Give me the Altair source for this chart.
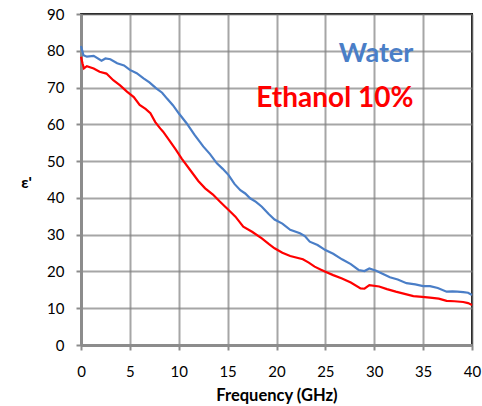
import altair as alt
import pandas as pd

water_f = [0, 0.25, 0.6, 1.3, 2.1, 2.5, 3.0, 3.7, 4.4, 5.0, 5.7, 6.4, 7.0, 7.7, 8.3, 8.8, 9.4, 10.0,
           10.8, 11.6, 12.5, 13.2, 13.9, 14.5, 15.1, 15.7, 16.3, 16.8, 17.3, 17.9, 18.5, 19.2, 19.8,
           20.6, 21.4, 22.4, 22.9, 23.4, 24.2, 25.0, 25.8, 26.7, 27.6, 28.4, 29.0, 29.5, 30.2, 30.9,
           31.6, 32.4, 33.3, 34.2, 35.0, 35.7, 36.5, 37.4, 38.0, 38.5, 39.1, 39.6, 40.0]
water_v = [81.3, 78.8, 78.4, 78.6, 77.3, 77.9, 77.7, 76.6, 76.0, 74.8, 73.9, 72.5, 71.4, 69.8, 68.6, 67.0, 65.2, 63.0,
           60.3, 57.2, 54.0, 51.9, 49.4, 47.9, 46.2, 43.8, 42.1, 41.2, 39.9, 38.9, 37.6, 35.6, 34.1,
           33.0, 31.3, 30.4, 29.6, 28.1, 27.2, 25.8, 24.8, 23.3, 22.0, 20.4, 20.1, 20.8, 20.2, 19.3,
           18.4, 17.8, 16.8, 16.5, 16.0, 16.0, 15.5, 14.5, 14.6, 14.5, 14.4, 14.2, 13.6]

eth_f = [0, 0.15, 0.3, 0.6, 1.3, 1.9, 2.6, 3.3, 4.0, 4.7, 5.4, 6.0, 6.6, 7.1, 7.6, 8.1, 8.4, 9.0, 9.7, 10.3,
         11.3, 12.0, 12.7, 13.5, 14.2, 15.1, 15.8, 16.6, 17.5, 18.5, 19.2, 19.8, 20.6, 21.4, 22.7,
         23.3, 23.9, 24.5, 25.0, 25.8, 26.7, 27.6, 28.6, 29.0, 29.5, 30.5, 31.3, 32.2, 33.1,
         34.0, 34.9, 35.7, 36.6, 37.4, 38.2, 39.1, 39.6, 40.0]
eth_v = [78.4, 76.6, 75.2, 75.8, 75.2, 74.3, 73.8, 72.0, 70.6, 68.9, 67.4, 65.3, 64.2, 63.0, 60.6, 58.9, 58.0, 55.8, 53.1, 50.7,
         47.1, 44.6, 42.6, 40.9, 39.0, 36.7, 34.9, 32.2, 30.8, 29.0, 27.5, 26.3, 25.1, 24.2, 23.3,
         22.4, 21.3, 20.5, 19.9, 19.0, 18.1, 17.0, 15.4, 15.3, 16.3, 15.9, 15.2, 14.5, 13.9,
         13.3, 13.1, 12.9, 12.6, 12.0, 11.9, 11.7, 11.4, 10.9]

series_names = ["Water", "Ethanol 10%"]
series_colors = ["#4A7EC7", "#FF0000"]

df = pd.concat([
    pd.DataFrame({"f": water_f, "v": water_v, "s": series_names[0]}),
    pd.DataFrame({"f": eth_f, "v": eth_v, "s": series_names[1]}),
])

FONT = "Lato"

x_scale = alt.Scale(domain=[0, 40], nice=False)
y_scale = alt.Scale(domain=[0, 90], nice=False)
x_axis = alt.Axis(values=list(range(0, 41, 5)), title="Frequency (GHz)", labelFlush=False,
                  grid=True, tickSize=5, labelPadding=14, titlePadding=8, titleFontSize=16.5)
y_axis = alt.Axis(values=list(range(0, 91, 10)), title="ε'", grid=True, labelFlush=False,
                  tickSize=5, labelPadding=12, titleAngle=0, titleX=-55, titleY=168,
                  titleAlign="center", titleBaseline="middle", titleFontSize=16)

lines = alt.Chart(df).mark_line(strokeWidth=2.2).encode(
    x=alt.X("f:Q", scale=x_scale, axis=x_axis),
    y=alt.Y("v:Q", scale=y_scale, axis=y_axis),
    color=alt.Color("s:N", scale=alt.Scale(domain=series_names, range=series_colors), legend=None),
    order=alt.Order("f:Q"),
)

water_txt = alt.Chart(pd.DataFrame({"t": [series_names[0]]})).mark_text(
    font=FONT, fontSize=27, fontWeight="bold", color=series_colors[0], align="right", baseline="alphabetic"
).encode(x=alt.X(datum=34, scale=x_scale, axis=x_axis),
         y=alt.Y(datum=77, scale=y_scale, axis=y_axis), text="t:N")

eth_txt = alt.Chart(pd.DataFrame({"t": [series_names[1]]})).mark_text(
    font=FONT, fontSize=28, fontWeight="bold", color=series_colors[1], align="right", baseline="alphabetic"
).encode(x=alt.X(datum=34, scale=x_scale, axis=x_axis),
         y=alt.Y(datum=64.7, scale=y_scale, axis=y_axis), text="t:N")

chart = alt.layer(lines, water_txt, eth_txt).properties(
    width=391, height=331,
    autosize=alt.AutoSizeParams(type="none"),
    padding={"left": 81, "top": 14, "right": 10, "bottom": 61},
).configure_view(
    stroke="black", strokeWidth=2
).configure_axis(
    labelFont=FONT, titleFont=FONT, labelFontSize=15, titleFontWeight="bold",
    labelColor="black", titleColor="black",
    gridColor="#808080", gridOpacity=0.7, gridWidth=2,
    domainColor="#8C8C8C", domainWidth=3, tickColor="#8C8C8C", tickWidth=2,
)

chart.save("out.html", embed_options={"renderer": "svg", "actions": False})
